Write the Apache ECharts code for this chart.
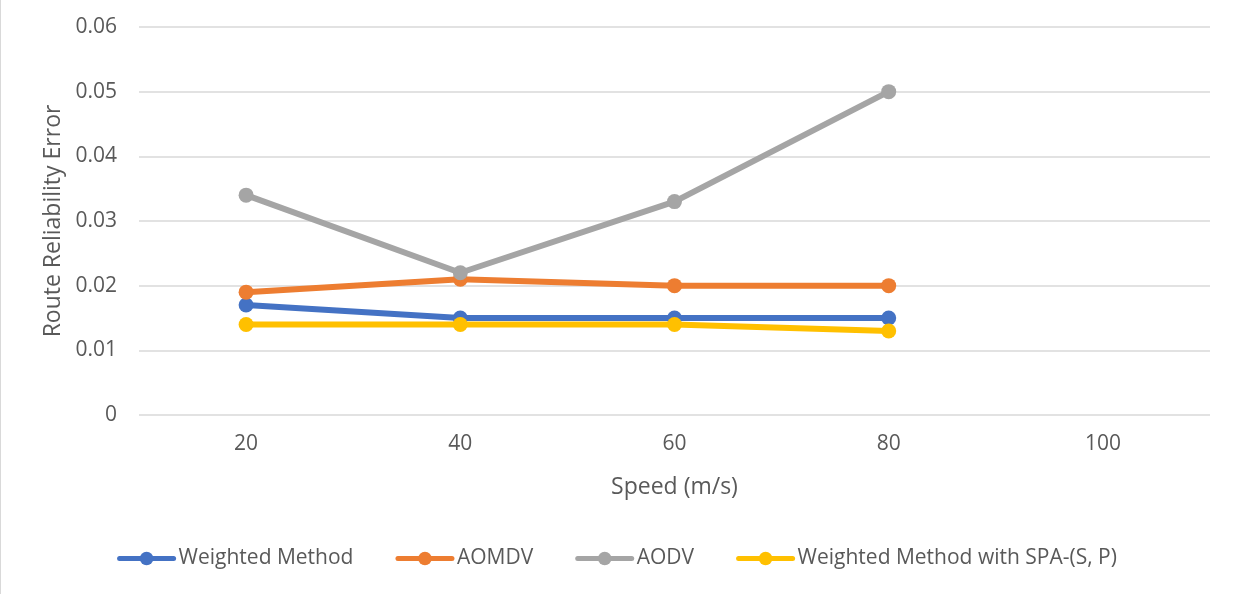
<!DOCTYPE html>
<html><head><meta charset="utf-8">
<script src="https://cdn.jsdelivr.net/npm/echarts@6/dist/echarts.min.js"></script>
<style>html,body{margin:0;padding:0;background:#fff}#c{width:1233px;height:594px;box-sizing:border-box;border-left:1px solid #d9d9d9}</style>
</head><body><div id="c"></div>
<script>
const categories = ['20','40','60','80','100'];
const weighted = [0.017, 0.015, 0.015, 0.015];
const aomdv = [0.019, 0.021, 0.020, 0.020];
const aodv = [0.034, 0.022, 0.033, 0.050];
const spa = [0.014, 0.014, 0.014, 0.013];
const names = ['Weighted Method','AOMDV','AODV','Weighted Method with SPA-(S, P)'];
const colors = ['#4472C4','#ED7D31','#A5A5A5','#FFC000'];
const font = 'Open Sans';
const chart = echarts.init(document.getElementById('c'));
const mk = (name, data, color) => ({
  name, type:'line', data, color,
  lineStyle:{width:6, color, cap:'round', join:'round'}, itemStyle:{color},
  symbol:'circle', symbolSize:15, showSymbol:true, animation:false
});
chart.setOption({
  animation:false,
  grid:{left:138,right:23,top:27,bottom:179},
  legend:{bottom:20,left:'center',itemWidth:54,itemHeight:17,itemGap:42,
    lineStyle:{width:5, cap:'round'},
    textStyle:{fontFamily:font,fontSize:21,color:'#595959'},
    data:names},
  xAxis:{type:'category',data:categories,boundaryGap:true,
    name:'Speed (m/s)',nameLocation:'middle',nameGap:61,
    nameTextStyle:{fontFamily:font,fontSize:23,color:'#595959'},
    axisLine:{show:false},axisTick:{show:false},
    axisLabel:{fontFamily:font,fontSize:21,color:'#595959',margin:19}},
  yAxis:{type:'value',min:0,max:0.06,interval:0.01,
    name:'Route Reliability Error',nameLocation:'middle',nameGap:73,
    nameTextStyle:{fontFamily:font,fontSize:23,color:'#595959'},
    axisLine:{show:false},axisTick:{show:false},
    splitLine:{lineStyle:{color:'#d9d9d9',width:1.5}},
    axisLabel:{fontFamily:font,fontSize:21,color:'#595959',margin:22,
      formatter:v=>String(Math.round(v*100)/100)}},
  series:[mk(names[0],weighted,colors[0]),mk(names[1],aomdv,colors[1]),mk(names[2],aodv,colors[2]),mk(names[3],spa,colors[3])]
});
</script></body></html>
